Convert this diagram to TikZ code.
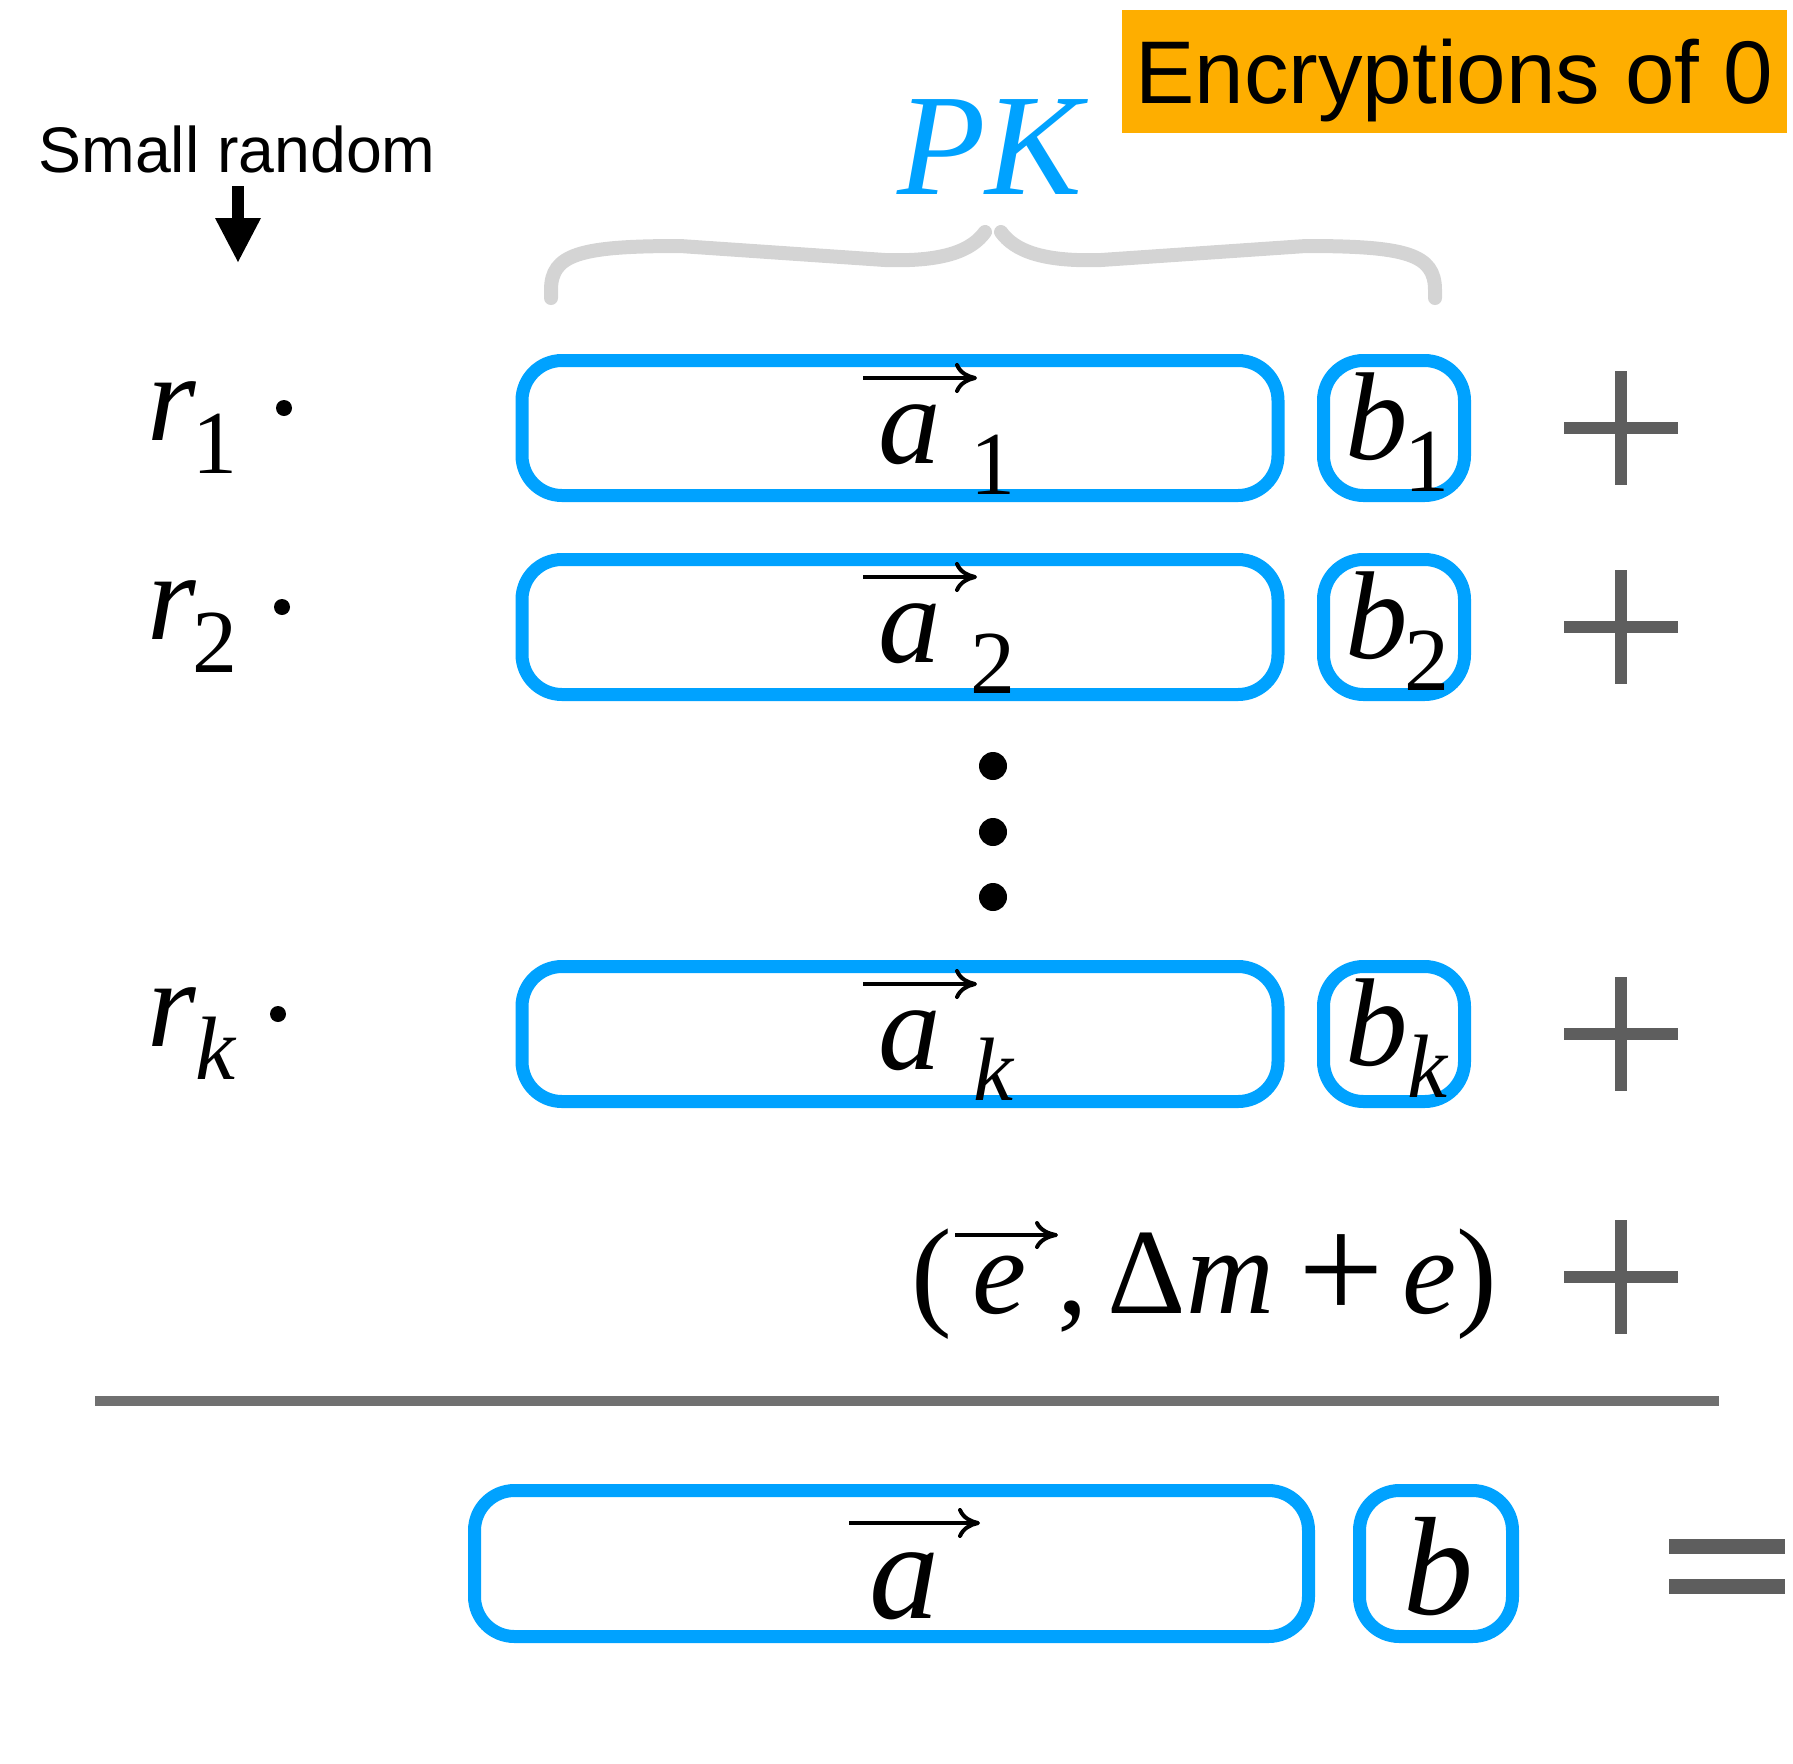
\documentclass[tikz,border=0pt]{standalone}
\usepackage{fontspec}
\setmainfont{Liberation Sans}
\newfontfamily\tim{Liberation Serif}
\usetikzlibrary{arrows.meta}
\definecolor{pkblue}{RGB}{0,162,255}
\definecolor{encorange}{RGB}{254,174,0}
\definecolor{opgray}{RGB}{94,94,94}
\definecolor{bracegray}{RGB}{212,212,212}
\definecolor{rulegray}{RGB}{112,112,112}
\begin{document}
\begin{tikzpicture}[x=0.5pt,y=-0.5pt,
  letter/.style={inner sep=0pt, anchor=base, font=\tim\itshape\fontsize{62.5}{62.5}\selectfont},
  bigletter/.style={inner sep=0pt, anchor=base, font=\tim\itshape\fontsize{70}{70}\selectfont},
  subdigit/.style={inner sep=0pt, anchor=base, font=\tim\fontsize{45}{45}\selectfont},
  subletter/.style={inner sep=0pt, anchor=base, font=\tim\itshape\fontsize{45}{45}\selectfont},
  eq/.style={inner sep=0pt, anchor=base, font=\tim\fontsize{61}{61}\selectfont},
  eqit/.style={inner sep=0pt, anchor=base, font=\tim\itshape\fontsize{61}{61}\selectfont},
  vecbox/.style={draw=pkblue, line width=6.5pt, rounded corners=20pt, inner sep=0pt},
  overarrow/.style={line width=2pt, -{Computer Modern Rightarrow[length=11pt,width=15pt]}},
  opline/.style={draw=opgray, line width=6pt},
  dotmark/.style={fill=black}
]
\useasboundingbox (0,0) rectangle (1793,1763);

% header box
\node[fill=encorange, minimum width=332.5pt, minimum height=61.5pt, inner sep=0pt,
      text height=31.9pt, text depth=0pt, font=\fontsize{44.5}{44.5}\selectfont]
      (enc) at (1454.5,71.5) {Encryptions of 0};

% Small random
\node[inner sep=0pt, anchor=base west, font=\fontsize{32.2}{32.2}\selectfont]
      (small) at (38,172) {Small random};
\coordinate (srA) at (238,186);
\coordinate (srB) at (238,262);
\draw[line width=6pt, -{Triangle[length=22pt,width=23pt,line width=0pt]}] (srA) -- (srB);

% PK
\node[inner sep=0pt, anchor=base, text=pkblue, font=\tim\itshape\fontsize{72.5}{72.5}\selectfont]
      (pk) at (990,194) {PK};

% brace
\draw[bracegray, line width=7pt, line cap=round]
  (551,298) -- (551,290) .. controls (551,254) and (580,246) .. (680,246)
  -- (885,260) .. controls (945,262) and (972,250) .. (985,232);
\draw[bracegray, line width=7pt, line cap=round]
  (1001,232) .. controls (1014,250) and (1041,262) .. (1101,260)
  -- (1306,246) .. controls (1406,246) and (1435,254) .. (1435,290) -- (1435,298);

% rows
\foreach \c/\s/\sty/\dx/\n in {428/1/subdigit/284/1, 627/2/subdigit/282/2, 1034/k/subletter/278/k}{
  \node[letter] (r\n) at (172,{\c+12}) {r};
  \node[\sty] (rs\n) at (215,{\c+45}) {\s};
  \fill[dotmark] (\dx,{\c-20}) circle (4pt);
  \node[vecbox, minimum width=378pt, minimum height=67.5pt] (A\n) at (900,\c) {};
  \node[vecbox, minimum width=70.5pt, minimum height=67.5pt] (B\n) at (1394,\c) {};
  \node[letter] (a\n) at (910,{\c+35}) {a};
  \node[\sty] (as\n) at (993,{\c+66}) {\s};
  \coordinate (va\n) at (863,{\c-50});
  \coordinate (vb\n) at (977,{\c-50});
  \draw[overarrow] (va\n) -- (vb\n);
  \node[letter] (b\n) at (1377,{\c+31}) {b};
  \node[\sty] (bs\n) at (1427,{\c+63}) {\s};
  \draw[opline] (1564,\c) -- (1678,\c);
  \draw[opline] (1621,{\c-57}) -- (1621,{\c+57});
}

% vertical dots
\fill[dotmark] (993,766) circle (7pt);
\fill[dotmark] (993,832) circle (7pt);
\fill[dotmark] (993,897) circle (7pt);

% error row
\node[eq] (lp) at (932,1313) {(};
\node[eqit] (ev) at (1000,1313) {e};
\node[eq] (cm) at (1073,1313) {,};
\node[eq] (dl) at (1147,1313) {Δ};
\node[eqit] (mm) at (1231,1313) {m};
\node[inner sep=0pt, anchor=base, font=\tim\fontsize{76}{76}\selectfont] (pl) at (1341,1320) {+};
\node[eqit] (ee) at (1430,1313) {e};
\node[eq] (rp) at (1477,1313) {)};
\coordinate (vea) at (955,1235);
\coordinate (veb) at (1058,1235);
\draw[line width=2pt, -{Computer Modern Rightarrow[length=11.5pt,width=14pt]}] (vea) -- (veb);
\draw[opline] (1564,1277) -- (1678,1277);
\draw[opline] (1621,1220) -- (1621,1334);

% separator
\draw[rulegray, line width=5pt] (95,1401) -- (1719,1401);

% result
\node[vecbox, minimum width=417pt, minimum height=73pt] (Ar) at (891.5,1563.5) {};
\node[vecbox, minimum width=76.5pt, minimum height=73pt] (Br) at (1436,1563.5) {};
\node[bigletter] (ar) at (904,1618) {a};
\coordinate (vra) at (849,1523);
\coordinate (vrb) at (980,1523);
\draw[overarrow] (vra) -- (vrb);
\node[bigletter] (br) at (1438,1614) {b};
\draw[opline, line width=7.5pt] (1669,1546) -- (1785,1546);
\draw[opline, line width=7.5pt] (1669,1586) -- (1785,1586);
\end{tikzpicture}
\end{document}
